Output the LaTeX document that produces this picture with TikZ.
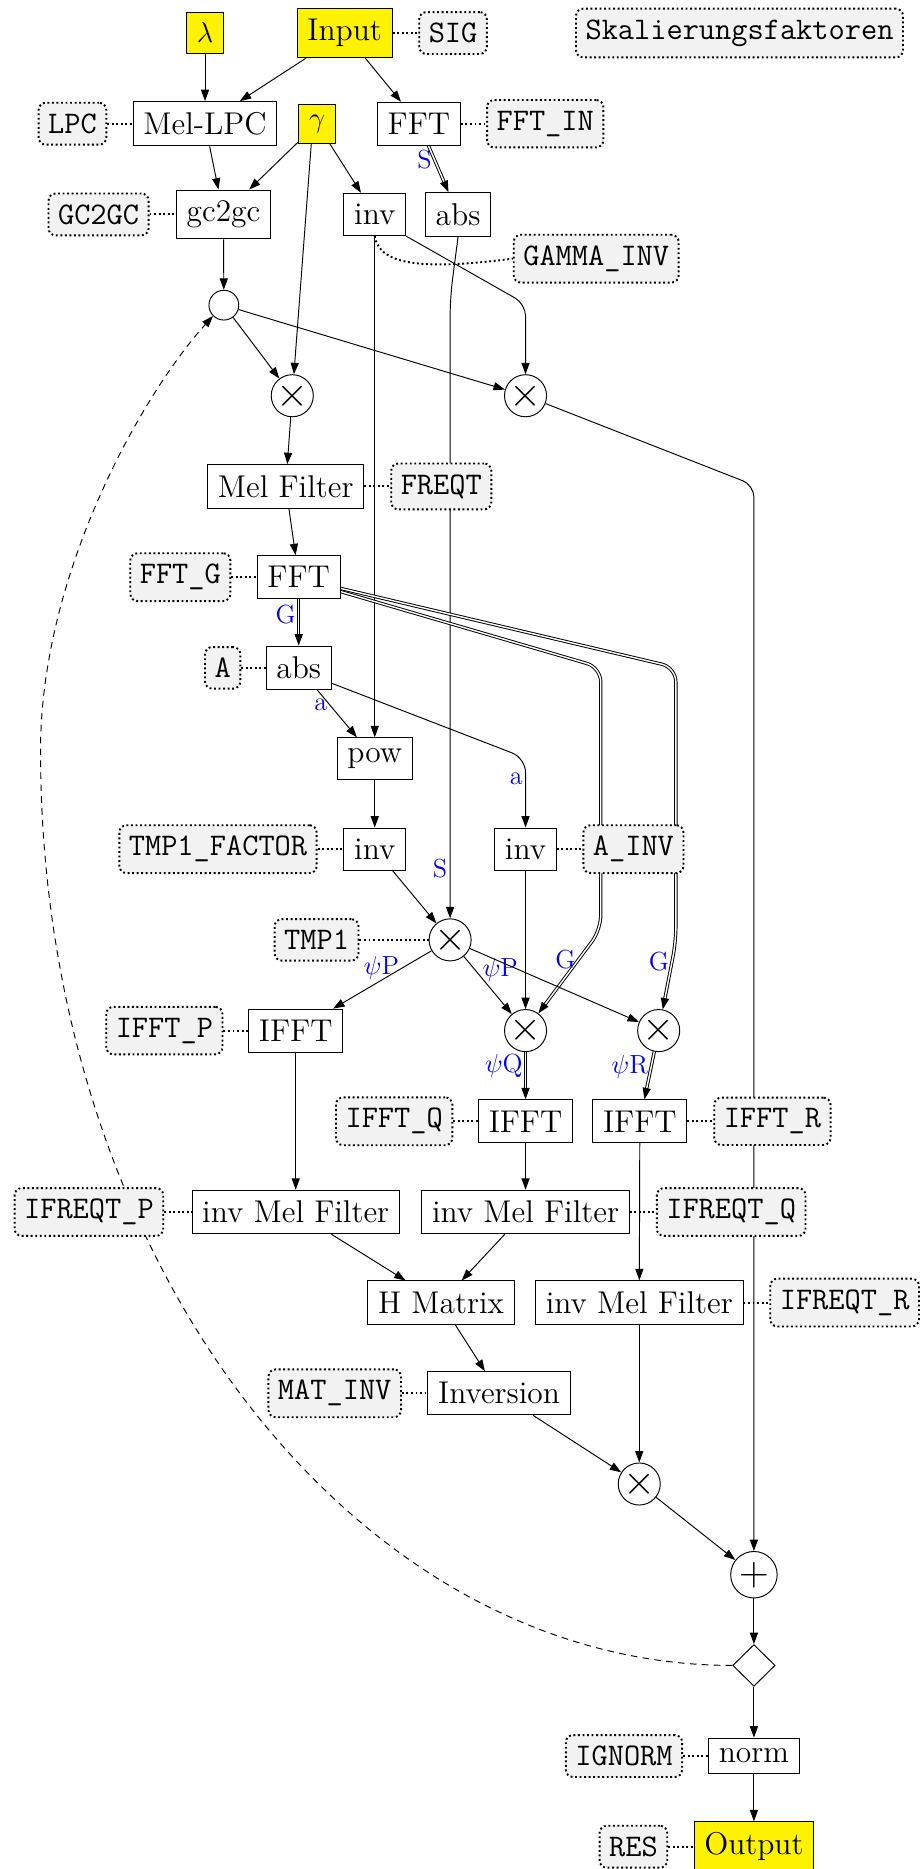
\documentclass[tikz,border=0pt]{standalone}
\usepackage{tikz}
\usetikzlibrary{arrows.meta,backgrounds,shapes.geometric}
\definecolor{tagfill}{RGB}{242,242,242}
\definecolor{ioyellow}{RGB}{255,242,0}
\tikzset{
  blk/.style={draw,fill=white,inner xsep=4.3pt,inner ysep=4.5pt,font=\fontsize{13.2}{15}\selectfont},
  iobox/.style={blk,fill=ioyellow},
  tagbox/.style={draw,dash pattern=on 0.8pt off 1.1pt,line width=0.8pt,rounded corners=3pt,fill=tagfill,inner xsep=4pt,inner ysep=4.6pt,font=\fontsize{13.2}{15}\selectfont\ttfamily},
  mulop/.style={draw,circle,fill=white,inner sep=0pt,minimum size=17.5pt,font=\fontsize{16}{16}\selectfont},
  addop/.style={mulop,minimum size=19.5pt},
  jnc/.style={draw,circle,fill=white,inner sep=0pt,minimum size=12.5pt},
  dec/.style={draw,diamond,fill=white,inner sep=0pt,minimum width=17.8pt,minimum height=17.5pt},
  elab/.style={text=blue,inner sep=1pt,font=\fontsize{11}{12}\selectfont},
  dlink/.style={dash pattern=on 0.8pt off 1.1pt,line width=0.8pt},
  sigarr/.style={-{Triangle[length=4.8pt,width=3.4pt]}},
  dbl/.style={sigarr,double,double distance=0.6pt},
}
\begin{document}
\begin{tikzpicture}[x=0.5pt,y=-0.5pt]
  \useasboundingbox (0,0) rectangle (775,1568);
  % inputs
  \node[iobox] (lam) at (172,27.7) {$\lambda$};
  \node[iobox] (input) at (289.2,27.7) {Input};
  \node[tagbox] (sig) at (380.1,27.7) {SIG};
  \node[tagbox] (skal) at (620.4,27.7) {Skalierungsfaktoren};
  \node[tagbox] (lpc) at (60.8,103.8) {LPC};
  \node[blk] (mellpc) at (172,103.8) {Mel-LPC};
  \node[iobox] (gam) at (266,103.8) {$\gamma$};
  \node[blk] (fft1) at (351.5,103.8) {FFT};
  \node[tagbox] (fftin) at (457.4,103.8) {FFT\_IN};
  \node[tagbox] (gc2gcl) at (82.7,179.9) {GC2GC};
  \node[blk] (gc2gc) at (187.5,179.9) {gc2gc};
  \node[blk] (inv1) at (314.4,179.9) {inv};
  \node[blk] (abs1) at (384.3,179.9) {abs};
  \node[tagbox] (gaminv) at (500.2,217) {GAMMA\_INV};
  \node[jnc] (jn) at (187.8,256) {};
  \node[mulop] (m1) at (245.2,332) {$\times$};
  \node[mulop] (m2) at (440.9,332) {$\times$};
  % mel filter / fft
  \node[blk] (melf) at (239.7,408.1) {Mel Filter};
  \node[tagbox] (freqt) at (370.2,408.1) {FREQT};
  \node[tagbox] (fftg) at (151.3,484.2) {FFT\_G};
  \node[blk] (fft2) at (250.6,484.2) {FFT};
  \node[tagbox] (al) at (186.8,560.3) {A};
  \node[blk] (abs2) at (250.6,560.3) {abs};
  \node[blk] (pow) at (314.4,636.4) {pow};
  \node[tagbox] (tmp1f) at (182.9,712.4) {TMP1\_FACTOR};
  \node[blk] (inv2) at (314.4,712.4) {inv};
  \node[blk] (inv3) at (440.9,712.4) {inv};
  \node[tagbox] (ainv) at (531.4,712.4) {A\_INV};
  \node[tagbox] (tmp1) at (265.6,788.5) {TMP1};
  \node[mulop] (m3) at (377.6,788.5) {$\times$};
  \node[tagbox] (ifftp) at (137.9,864.6) {IFFT\_P};
  \node[blk] (ifftP) at (248.1,864.6) {IFFT};
  \node[mulop] (m4) at (440.9,864.6) {$\times$};
  \node[mulop] (m5) at (552.6,864.6) {$\times$};
  \node[tagbox] (ifftq) at (330.7,940.7) {IFFT\_Q};
  \node[blk] (ifftQ) at (440.9,940.7) {IFFT};
  \node[blk] (ifftR) at (536.8,940.7) {IFFT};
  \node[tagbox] (ifftr) at (648,940.7) {IFFT\_R};
  % inverse mel filters
  \node[tagbox] (ifreqtp) at (74.6,1016.8) {IFREQT\_P};
  \node[blk] (imelP) at (248.1,1016.8) {inv Mel Filter};
  \node[blk] (imelQ) at (440.9,1016.8) {inv Mel Filter};
  \node[tagbox] (ifreqtq) at (613.4,1016.8) {IFREQT\_Q};
  \node[blk] (hmat) at (370,1092.8) {H Matrix};
  \node[blk] (imelR) at (536.3,1092.8) {inv Mel Filter};
  \node[tagbox] (ifreqtr) at (708.6,1092.8) {IFREQT\_R};
  \node[tagbox] (matinv) at (280.8,1168.9) {MAT\_INV};
  \node[blk] (inver) at (418.7,1168.9) {Inversion};
  \node[mulop] (m6) at (536.3,1245) {$\times$};
  \node[addop] (plus) at (632.5,1321.1) {$+$};
  \node[dec] (dec1) at (632.5,1397.2) {};
  \node[tagbox] (ignorm) at (523.5,1473.2) {IGNORM};
  \node[blk] (norm) at (632.5,1473.2) {norm};
  \node[tagbox] (res) at (531.4,1549.3) {RES};
  \node[iobox] (output) at (632.5,1549.3) {Output};

  \begin{scope}[on background layer]
    \draw[sigarr] (lam) -- (mellpc);
    \draw[sigarr] (input) -- (mellpc);
    \draw[sigarr] (input) -- (fft1);
    \draw[dlink] (input) -- (sig);
    \draw[dlink] (lpc) -- (mellpc);
    \draw[dlink] (fft1) -- (fftin);
    \draw[sigarr] (mellpc) -- (gc2gc);
    \draw[sigarr] (gam) -- (gc2gc);
    \draw[sigarr] (gam.254) -- (m1);
    \draw[sigarr] (gam) -- (inv1);
    \draw[dbl] (fft1) -- node[elab,left,pos=0.3]{S} (abs1);
    \draw[dlink] (gc2gcl) -- (gc2gc);
    \draw[dlink] (inv1.south) .. controls (318,224) and (360,226) .. (gaminv.west);
    \draw[sigarr] (gc2gc) -- (jn);
    \draw[sigarr] (jn) -- (m1);
    \draw[sigarr] (jn) -- (m2);
    \draw[sigarr,rounded corners=5pt] (inv1.south east) -- (440.9,255) -- (m2);
    \draw[sigarr] (inv1) -- (pow);
    \draw[sigarr,rounded corners=8pt] (abs1.south) -- (377.6,250) -- node[elab,left,pos=0.92]{S} (m3);
    \draw[sigarr] (m1) -- (melf);
    \draw[sigarr,rounded corners=5pt] (m2) -- (632.5,407) -- (plus);
    \draw[dlink] (melf) -- (freqt);
    \draw[sigarr] (melf) -- (fft2);
    \draw[dlink] (fftg) -- (fft2);
    \draw[dbl] (fft2) -- node[elab,left,pos=0.34]{G} (abs2);
    \draw[dbl,rounded corners=6pt] (fft2.-19) -- (504,560) -- (504,780) -- node[elab,left,pos=0.36]{G} (m4);
    \draw[dbl,rounded corners=6pt] (fft2.-15) -- (567,560) -- (567,790) -- node[elab,left,pos=0.3]{G} (m5);
    \draw[dlink] (al) -- (abs2);
    \draw[sigarr] (abs2) -- node[elab,left,pos=0.32]{a} (pow);
    \draw[sigarr,rounded corners=6pt] (abs2.-25) -- (440.9,636) -- node[elab,left,pos=0.3]{a} (inv3);
    \draw[sigarr] (pow) -- (inv2);
    \draw[dlink] (tmp1f) -- (inv2);
    \draw[dlink] (inv3) -- (ainv);
    \draw[sigarr] (inv2) -- (m3);
    \draw[sigarr] (inv3) -- (m4);
    \draw[dlink] (tmp1) -- (m3);
    \draw[sigarr] (m3) -- node[elab,left,pos=0.3]{$\psi$P} (ifftP);
    \draw[sigarr] (m3) -- node[elab,right=2pt,pos=0.23]{$\psi$P} (m4);
    \draw[sigarr] (m3) -- (m5);
    \draw[dbl] (m4) -- node[elab,left,pos=0.3]{$\psi$Q} (ifftQ);
    \draw[dbl] (m5) -- node[elab,left,pos=0.32]{$\psi$R} (ifftR);
    \draw[dlink] (ifftp) -- (ifftP);
    \draw[dlink] (ifftq) -- (ifftQ);
    \draw[dlink] (ifftR) -- (ifftr);
    \draw[sigarr] (ifftP) -- (imelP);
    \draw[sigarr] (ifftQ) -- (imelQ);
    \draw[sigarr] (ifftR) -- (imelR);
    \draw[dlink] (ifreqtp) -- (imelP);
    \draw[dlink] (imelQ) -- (ifreqtq);
    \draw[dlink] (imelR) -- (ifreqtr);
    \draw[sigarr] (imelP) -- (hmat);
    \draw[sigarr] (imelQ) -- (hmat);
    \draw[sigarr] (hmat) -- (inver);
    \draw[dlink] (matinv) -- (inver);
    \draw[sigarr] (inver) -- (m6);
    \draw[sigarr] (imelR) -- (m6);
    \draw[sigarr] (m6) -- (plus);
    \draw[sigarr] (plus) -- (dec1);
    \draw[sigarr] (dec1) -- (norm);
    \draw[dlink] (ignorm) -- (norm);
    \draw[sigarr] (norm) -- (output);
    \draw[dlink] (res) -- (output);
    % feedback loop
    \draw[sigarr,dash pattern=on 2.8pt off 2.2pt] (dec1.west) .. controls (296,1397) and (34,1057) .. (34,630)
      .. controls (34,480) and (120,330) .. (jn.225);
  \end{scope}
\end{tikzpicture}
\end{document}
